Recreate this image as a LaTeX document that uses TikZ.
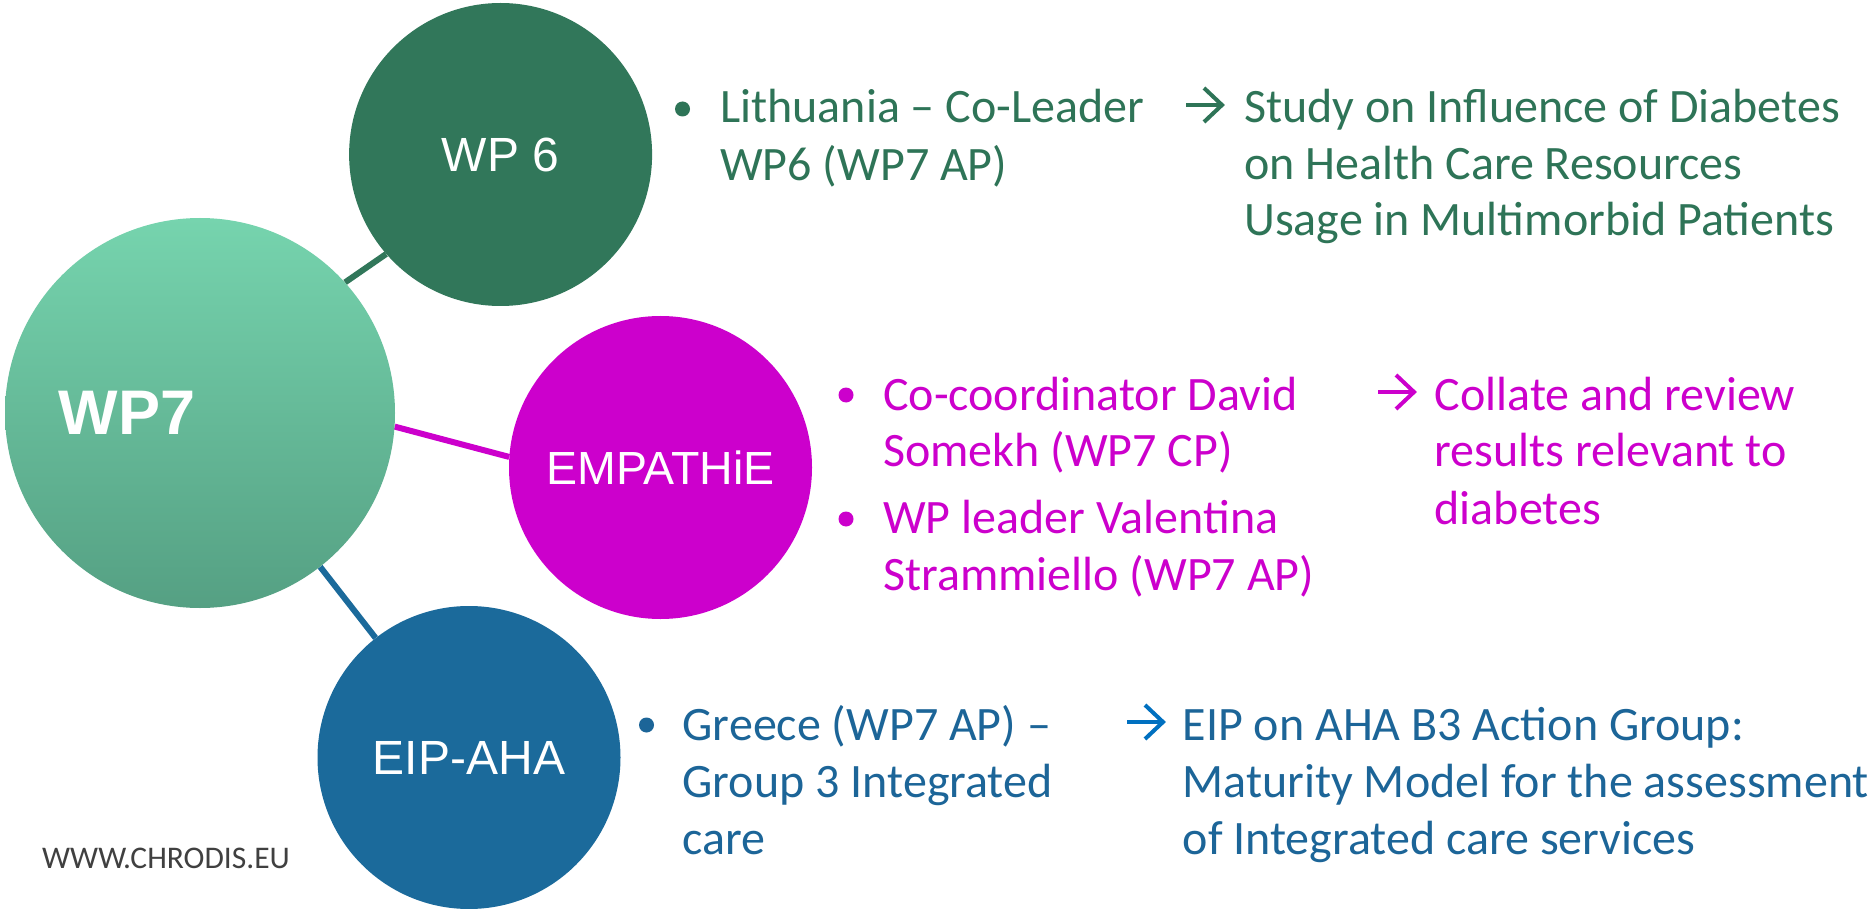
\documentclass[tikz,border=0pt]{standalone}
\usepackage{fontspec}
\setmainfont{Carlito}
\newfontfamily\arialf{Liberation Sans}
\usetikzlibrary{backgrounds}
\definecolor{wpgreen}{HTML}{31775A}
\definecolor{txtgreen}{HTML}{2E7457}
\definecolor{wptop}{HTML}{76D4AE}
\definecolor{wpbot}{HTML}{55A083}
\definecolor{empmag}{HTML}{CC00CC}
\definecolor{eipblue}{HTML}{1B6A9B}
\definecolor{txtblue}{HTML}{1C6598}
\definecolor{arrblue}{HTML}{0070C0}
\definecolor{wwwgray}{HTML}{404040}
\tikzset{
  bigcirc/.style={circle, inner sep=0pt, draw=none, text=white},
  smallcirc/.style={bigcirc, minimum size=303pt, font=\arialf\fontsize{48}{56}\selectfont},
  conn/.style={line width=6pt},
  txt/.style={anchor=base west, inner sep=0pt, font=\fontsize{48}{57}\selectfont},
  bul/.style={circle, inner sep=0pt, minimum size=15pt},
  rarr/.pic={
    \draw[line width=4pt] (0,0) -- (35,0);
    \draw[line width=4pt, line join=miter] (18,-17) -- (36,0) -- (18,17);
  }
}
\begin{document}
\begin{tikzpicture}[x=1pt,y=-1pt]
\useasboundingbox (0,0) rectangle (1874,909);
% circles
\node[bigcirc, minimum size=390pt, top color=wptop, bottom color=wpbot] (wp7) at (200,413) {};
\node[anchor=center, inner sep=0pt, text=white, font=\arialf\bfseries\fontsize{63}{70}\selectfont] (wp7lbl) at (127,413) {WP7};
\node[smallcirc, fill=wpgreen] (wp6) at (500.6,154.5) {WP 6};
\node[smallcirc, fill=empmag, font=\arialf\fontsize{46.5}{56}\selectfont] (emp) at (660.5,467.5) {EMPATHiE};
\node[smallcirc, fill=eipblue] (eip) at (469,757.5) {EIP-AHA};
% connectors
\begin{pgfonlayer}{background}
\fill[white] (0,0) rectangle (1874,909);
\draw[conn, wpgreen] (wp7.42.5) -- (wp6.-139.6);
\draw[conn, empmag] (wp7.-4.7) -- (emp.176.4);
\draw[conn, eipblue] (wp7.-52.2) -- (eip.128.2);
\end{pgfonlayer}
% WP6 texts
\node[bul, fill=txtgreen] (b1) at (682.5,109) {};
\node[txt, text=txtgreen] (g1) at (720,123) {Lithuania – Co-Leader};
\node[txt, text=txtgreen] (g2) at (720,180.5) {WP6 (WP7 AP)};
\pic[color=txtgreen] (a1) at (1186,105) {rarr};
\node[txt, text=txtgreen] (g3) at (1244,123) {Study on Influence of Diabetes};
\node[txt, text=txtgreen] (g4) at (1244,179.5) {on Health Care Resources};
\node[txt, text=txtgreen] (g5) at (1244,236) {Usage in Multimorbid Patients};
% EMPATHiE texts
\node[bul, fill=empmag] (b2) at (846,395) {};
\node[bul, fill=empmag] (b3) at (846,519) {};
\node[txt, text=empmag] (m1) at (883,410) {Co-coordinator David};
\node[txt, text=empmag] (m2) at (883,466.5) {Somekh (WP7 CP)};
\node[txt, text=empmag] (m3) at (883,533) {WP leader Valentina};
\node[txt, text=empmag] (m4) at (883,590) {Strammiello (WP7 AP)};
\pic[color=empmag] (a2) at (1378,392) {rarr};
\node[txt, text=empmag] (m5) at (1434.5,410) {Collate and review};
\node[txt, text=empmag] (m6) at (1434.5,466.5) {results relevant to};
\node[txt, text=empmag] (m7) at (1434.5,524) {diabetes};
% EIP-AHA texts
\node[bul, fill=txtblue] (b4) at (646.5,725) {};
\node[txt, text=txtblue] (e1) at (682.5,740) {Greece (WP7 AP) –};
\node[txt, text=txtblue] (e2) at (682.5,797) {Group 3 Integrated};
\node[txt, text=txtblue] (e3) at (682.5,854.5) {care};
\pic[color=arrblue] (a3) at (1127,722) {rarr};
\node[txt, text=txtblue] (e4) at (1182.5,740) {EIP on AHA B3 Action Group:};
\node[txt, text=txtblue] (e5) at (1182.5,797) {Maturity Model for the assessment};
\node[txt, text=txtblue] (e6) at (1182.5,854.5) {of Integrated care services};
% footer
\node[anchor=base west, inner sep=0pt, text=wwwgray, font=\fontsize{31.5}{36}\selectfont] (www) at (42,868) {WWW.CHRODIS.EU};
\end{tikzpicture}
\end{document}
